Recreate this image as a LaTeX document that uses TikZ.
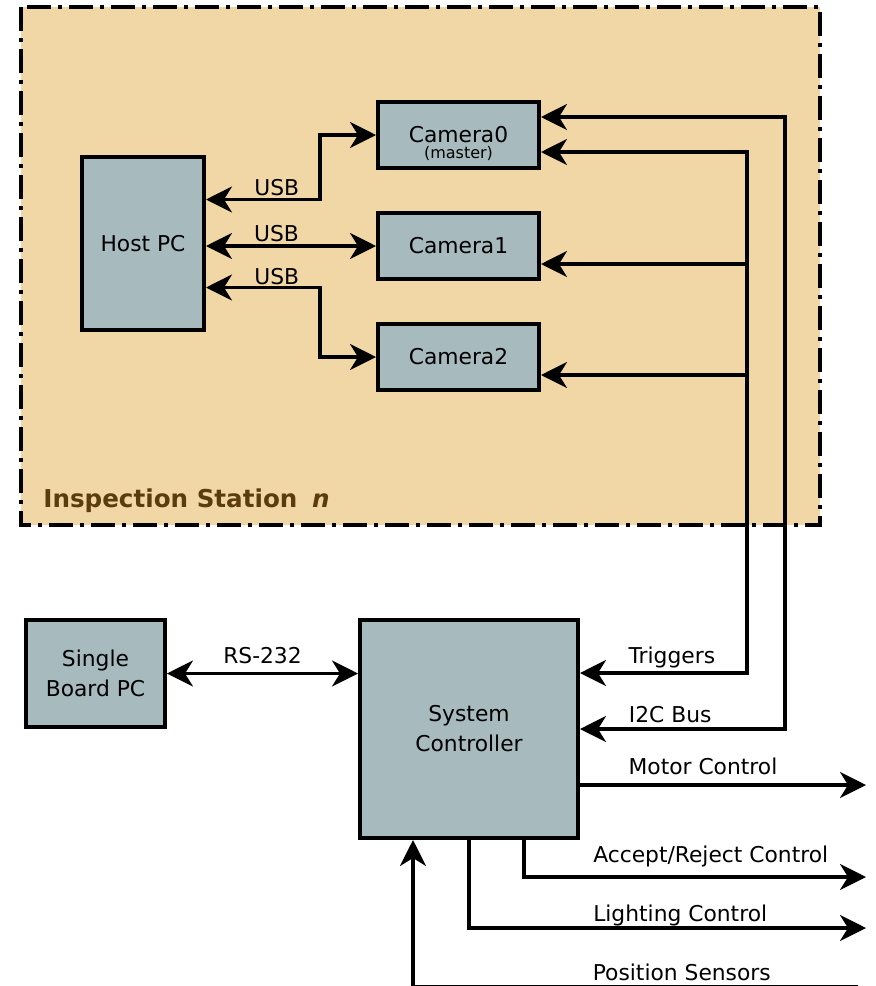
\documentclass[tikz,border=0pt]{standalone}
\usepackage{fontspec}
\setmainfont{DejaVu Sans}
\usetikzlibrary{positioning,arrows.meta}
\definecolor{station}{HTML}{F2D7A6}
\definecolor{boxfill}{HTML}{A7BBBE}
\definecolor{stationtxt}{HTML}{5C3C0C}

\begin{document}
\begin{tikzpicture}[
  x=0.5pt,y=-0.5pt,
  font=\fontsize{10.9}{15}\selectfont,
  >={Stealth[length=13pt,width=13pt,inset=4pt]},
  unit/.style={draw,line width=2pt,fill=boxfill,align=center,inner sep=0pt},
  cam/.style={unit,minimum width=80.5pt,minimum height=33pt},
  bus/.style={line width=1.6pt},
  lbl/.style={anchor=base,inner sep=0pt},
  stationbox/.style={fill=station,draw,line width=1.6pt,
                     dash pattern=on 12pt off 3.5pt on 2pt off 3.5pt},
]
\clip (0,0) rectangle (876,986);

% inspection station
\draw[stationbox] (21,7) rectangle (820,525);
\node[anchor=base west,inner sep=0pt,text=stationtxt,
      font=\fontsize{12.3}{14}\selectfont\bfseries]
  (stname) at (43,507) {Inspection Station\hspace{0.6em}\textit{n}};

\node[unit,minimum width=61pt,minimum height=86.5pt] (host) at (143,243.5) {Host PC};
\node[cam] (cam0) at (458.5,135) {\raisebox{1pt}{Camera0}};
\node[lbl,font=\fontsize{8}{9}\selectfont] (master) at ([yshift=-11.5pt]cam0.center) {(master)};
\node[cam,below=20.5pt of cam0] (cam1) {Camera1};
\node[cam,below=20.5pt of cam1] (cam2) {Camera2};

% controller side
\node[unit,minimum width=69.5pt,minimum height=53.5pt] (sbc) at (95.5,673.5) {Single\\Board PC};
\node[unit,minimum width=109pt,minimum height=109pt] (sys) at (469,729) {System\\Controller};

% bus corners and free ends
\coordinate (trig) at (747,673);
\coordinate (i2c) at (785,729);
\coordinate (motor) at (866,785);
\coordinate (accrej) at (866,877);
\coordinate (light) at (866,928);
\coordinate (possens) at (858,986.5);

% USB links
\draw[bus,<->] ([yshift=22pt]host.east) -- node[lbl,pos=.62,yshift=2pt]{USB} ++(114,0) |- (cam0.west);
\draw[bus,<->] (cam1.west -| host.east) -- node[lbl,pos=.415,yshift=2.5pt]{USB} (cam1.west);
\draw[bus,<->] ([yshift=-22pt]host.east) -- node[lbl,pos=.62,yshift=1.5pt]{USB} ++(114,0) |- (cam2.west);

% triggers and i2c to the cameras
\draw[bus,<->] ([yshift=9pt]cam0.east) -| (i2c) -- node[lbl,pos=.56,yshift=3.5pt]{I2C Bus} (sys.east);
\draw[bus,<->] ([yshift=-8.5pt]cam0.east) -| (trig) -- node[lbl,pos=.45,yshift=5pt]{Triggers} ([yshift=28pt]sys.east);
\draw[bus,<-] ([yshift=-9pt]cam1.east) -- ([yshift=-9pt]cam1.east -| trig);
\draw[bus,<-] ([yshift=-9pt]cam2.east) -- ([yshift=-9pt]cam2.east -| trig);

% RS-232
\draw[bus,<->] (sbc.east) -- node[lbl,midway,yshift=5pt]{RS-232} (sbc.east -| sys.west);

% controller outputs / inputs
\draw[bus,->] ([yshift=-28pt]sys.east) -- node[lbl,pos=.43,yshift=5.5pt]{Motor Control} (motor);
\draw[bus,->] ([xshift=27.5pt]sys.south) |- node[lbl,pos=.773,yshift=7.5pt]{Accept/Reject Control} (accrej);
\draw[bus,->] (sys.south) |- node[lbl,pos=.766,yshift=3.5pt]{Lighting Control} (light);
\draw[bus,->] (possens) -| node[lbl,pos=.198,yshift=3.25pt]{Position Sensors} ([xshift=-28pt]sys.south);
\end{tikzpicture}
\end{document}
